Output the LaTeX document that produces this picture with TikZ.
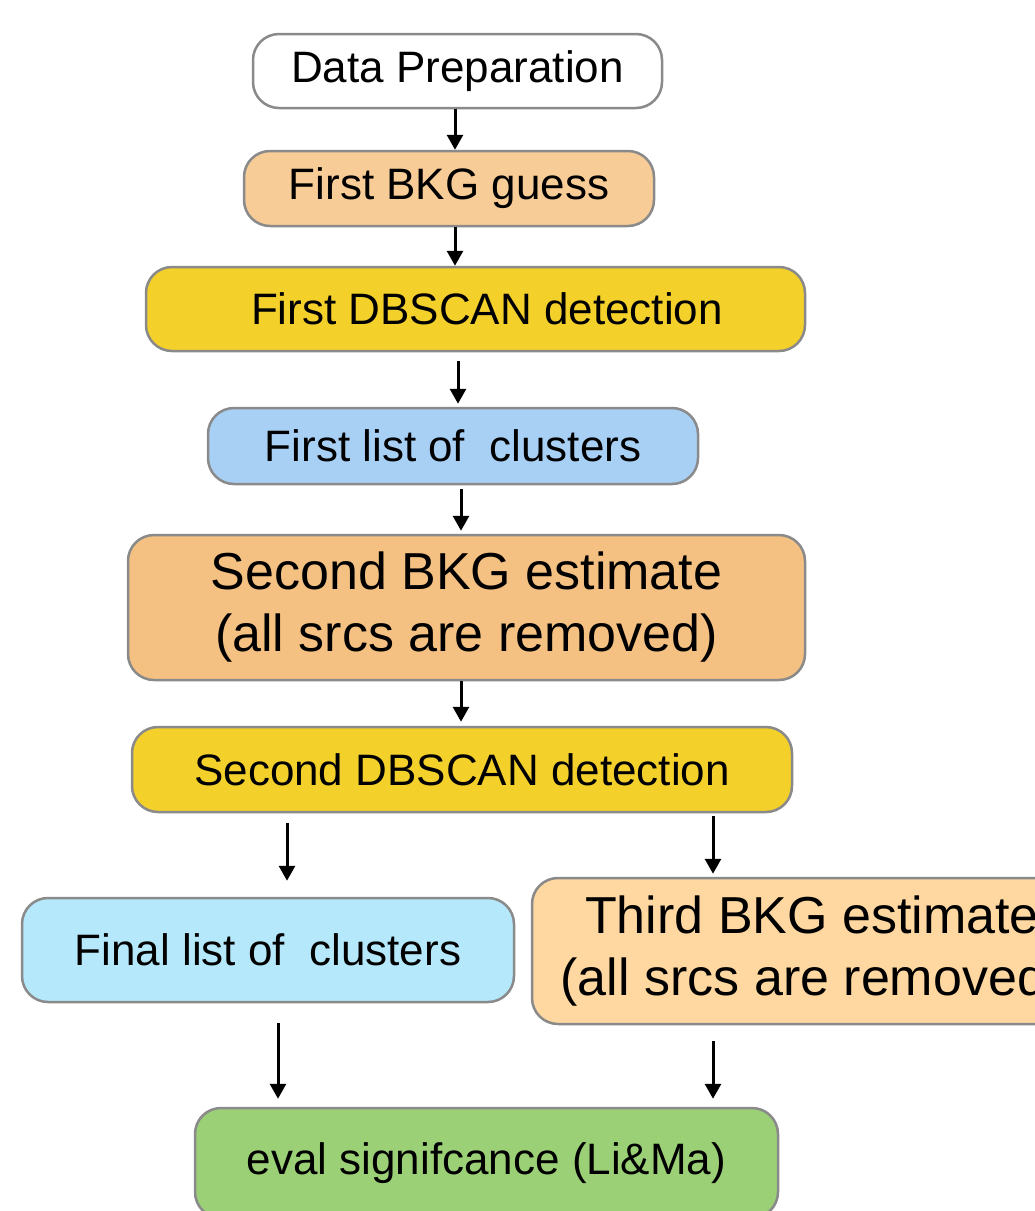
\documentclass[tikz,border=0pt]{standalone}
\usepackage{fontspec}
\setmainfont{Liberation Sans}
\usetikzlibrary{arrows.meta}
\definecolor{boxline}{RGB}{138,138,138}
\definecolor{bkgone}{RGB}{248,204,150}
\definecolor{dbscan}{RGB}{244,208,42}
\definecolor{listone}{RGB}{168,208,245}
\definecolor{bkgtwo}{RGB}{245,193,130}
\definecolor{listfin}{RGB}{180,232,250}
\definecolor{bkgthree}{RGB}{254,216,160}
\definecolor{evalgreen}{RGB}{155,208,118}
\tikzset{
  box/.style={draw=boxline, line width=2.5pt, rounded corners=26pt, inner sep=0pt,
    align=center, font=\fontsize{44}{52}\selectfont},
  bigbox/.style={box, font=\fontsize{52}{62}\selectfont},
  arr/.style={-{Triangle[width=16pt,length=15pt]}, line width=3pt}
}
\begin{document}
\begin{tikzpicture}[x=1pt,y=1pt,yscale=-1]
\useasboundingbox (0,0) rectangle (1035,1211);
% boxes
\node[box, fill=white, minimum width=409pt, minimum height=74pt] (prep) at (457.5,71) {Data Preparation};
\node[box, fill=bkgone, minimum width=410pt, minimum height=75pt] (bkg1) at (449,188.5) {First BKG guess};
\node[box, fill=dbscan, minimum width=659pt, minimum height=84pt] (det1) at (475.5,309) {\hspace*{23pt}First DBSCAN detection};
\node[box, fill=listone, minimum width=490pt, minimum height=76pt] (list1) at (453,446) {First list of~~clusters};
\node[bigbox, fill=bkgtwo, minimum width=677pt, minimum height=145pt] (bkg2) at (466.5,607.5) {Second BKG estimate\\(all srcs are removed)};
\node[box, fill=dbscan, minimum width=660pt, minimum height=85pt] (det2) at (462,769.5) {Second DBSCAN detection};
\node[box, fill=listfin, minimum width=492pt, minimum height=104pt] (final) at (268,950) {Final list of~~clusters};
\node[bigbox, fill=bkgthree, minimum width=560pt, minimum height=146pt] (bkg3) at (812,951) {Third BKG estimate\\(all srcs are removed)};
\node[box, fill=evalgreen, minimum width=583pt, minimum height=110pt] (eval) at (486.5,1163) {eval signifcance (Li\&Ma)};
% arrows
\draw[arr] ([xshift=-2.5pt]prep.south) -- ([xshift=6pt]bkg1.north);
\draw[arr] ([xshift=6pt]bkg1.south) -- ([xshift=-20.5pt]det1.north);
\draw[arr, shorten <=9pt, shorten >=3pt] ([xshift=-17.5pt]det1.south) -- ([xshift=5pt]list1.north);
\draw[arr, shorten <=4pt, shorten >=3pt] ([xshift=8pt]list1.south) -- ([xshift=-5.5pt]bkg2.north);
\draw[arr, shorten >=4pt] ([xshift=-5.5pt]bkg2.south) -- ([xshift=-1pt]det2.north);
\draw[arr, shorten <=10pt, shorten >=16pt] ([xshift=-175pt]det2.south) -- ([xshift=19pt]final.north);
\draw[arr, shorten <=3pt, shorten >=3pt] ([xshift=251pt]det2.south) -- ([xshift=-99pt]bkg3.north);
\draw[arr, shorten <=20pt, shorten >=8pt] ([xshift=10pt]final.south) -- ([xshift=-208.5pt]eval.north);
\draw[arr, shorten <=16pt, shorten >=8pt] ([xshift=-99pt]bkg3.south) -- ([xshift=226.5pt]eval.north);
\end{tikzpicture}
\end{document}
